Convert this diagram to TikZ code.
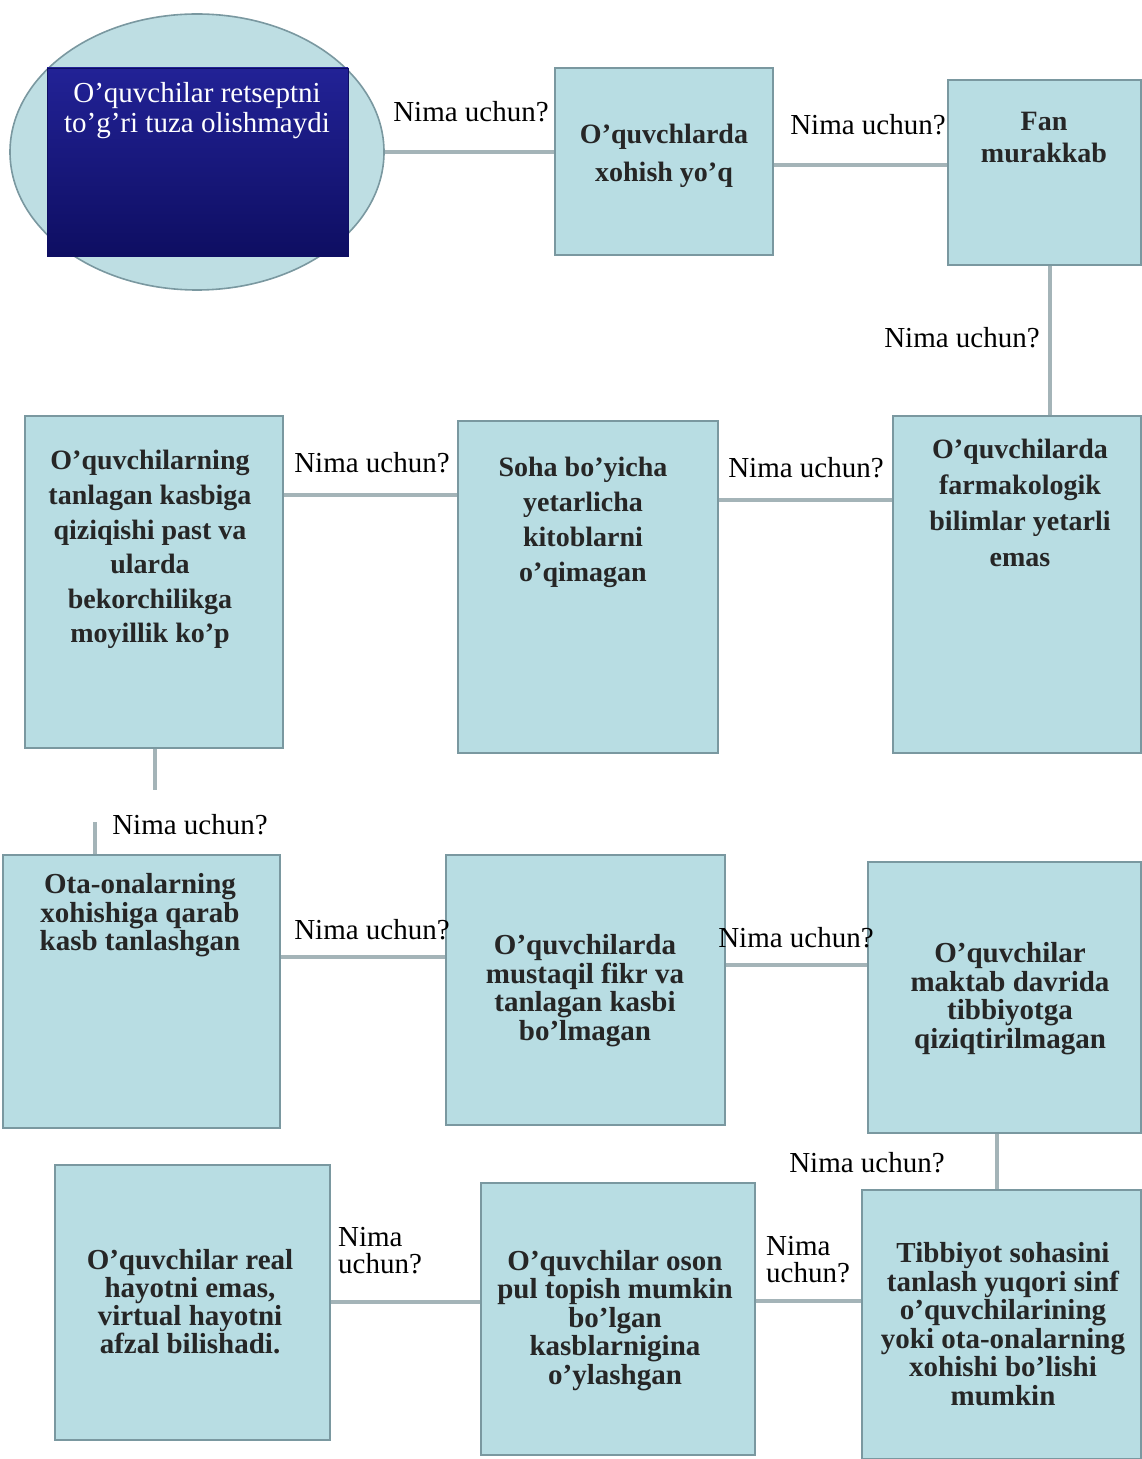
\documentclass[tikz,border=0pt]{standalone}
\usepackage{fontspec}
\setmainfont{Liberation Serif}
\usetikzlibrary{fit,shapes.geometric}
\definecolor{boxfill}{RGB}{184,221,227}
\definecolor{boxline}{RGB}{122,152,160}
\definecolor{linkgray}{RGB}{164,180,184}
\definecolor{navytop}{RGB}{34,34,150}
\definecolor{navybot}{RGB}{14,14,98}
\definecolor{ovalfill}{RGB}{190,222,227}
\tikzset{
  cause/.style={draw=boxline, fill=boxfill, line width=1pt, inner sep=0pt},
  causetext/.style={anchor=north, align=center, inner sep=0pt, text=black!85, font=\bfseries\fontsize{14}{#1}\selectfont},
  lowtext/.style={causetext, font=\bfseries\fontsize{14.5}{#1}\selectfont},
  why/.style={inner sep=0pt, font=\fontsize{14.5}{13.5}\selectfont},
  link/.style={draw=linkgray, line width=2.2pt},
}
\begin{document}
\begin{tikzpicture}[x=0.5pt, y=-0.5pt]
\useasboundingbox (0,0) rectangle (1141,1459);
% first row
\node[ellipse, draw=boxline, fill=ovalfill, line width=0.8pt, minimum width=187pt, minimum height=138pt, inner sep=0pt] (oval) at (197,152) {};
\node[fit={(47,68) (348,256)}, inner sep=0pt, top color=navytop, bottom color=navybot, draw=navybot] (start) {};
\node[anchor=north, align=center, inner sep=0pt, text=white, font=\fontsize{14.5}{15}\selectfont] (start-t) at (197,82) {O'quvchilar retseptni\\to'g'ri tuza olishmaydi};
\node[cause, fit={(555,68) (773,255)}] (xohish) {};
\node[causetext=19] (xohish-t) at (664,124) {O'quvchlarda\\xohish yo'q};
\node[cause, fit={(948,80) (1141,265)}] (fan) {};
\node[causetext=16] (fan-t) at (1044,112) {Fan\\murakkab};
\draw[link] (oval.east) -- (oval.east -| xohish.west);
\draw[link] (xohish.east |- 0,165) -- (fan.west |- 0,165);
\node[why] (why1) at (471,112) {Nima uchun?};
\node[why] (why2) at (868,125) {Nima uchun?};
% second row
\node[cause, fit={(25,416) (283,748)}] (qiziq) {};
\node[causetext=17.3] (qiziq-t) at (150,450) {O'quvchilarning\\tanlagan kasbiga\\qiziqishi past va\\ularda\\bekorchilikga\\moyillik ko'p};
\node[cause, fit={(458,421) (718,753)}] (kitob) {};
\node[causetext=17.5] (kitob-t) at (583,457) {Soha bo'yicha\\yetarlicha\\kitoblarni\\o'qimagan};
\node[cause, fit={(893,416) (1141,753)}] (farm) {};
\node[causetext=18] (farm-t) at (1020,439) {O'quvchilarda\\farmakologik\\bilimlar yetarli\\emas};
\draw[link] (fan.south -| 1050,0) -- (farm.north -| 1050,0);
\draw[link] (farm.west |- 0,500) -- (kitob.east |- 0,500);
\draw[link] (kitob.west |- 0,495) -- (qiziq.east |- 0,495);
\node[why] (why3) at (962,338) {Nima uchun?};
\node[why] (why4) at (806,468) {Nima uchun?};
\node[why] (why5) at (372,463) {Nima uchun?};
% third row
\node[cause, fit={(3,855) (280,1128)}] (ota) {};
\node[lowtext=14.3] (ota-t) at (140,873) {Ota-onalarning\\xohishiga qarab\\kasb tanlashgan};
\node[cause, fit={(446,855) (725,1125)}] (mustaqil) {};
\node[lowtext=14.3] (mustaqil-t) at (585,934) {O'quvchilarda\\mustaqil fikr va\\tanlagan kasbi\\bo'lmagan};
\node[cause, fit={(868,862) (1141,1133)}] (maktab) {};
\node[lowtext=14.3] (maktab-t) at (1010,942) {O'quvchilar\\maktab davrida\\tibbiyotga\\qiziqtirilmagan};
\coordinate (gapA) at (155,790);
\coordinate (gapD) at (95,822);
\draw[link, line width=1.6pt] (qiziq.south -| gapA) -- (gapA);
\draw[link, line width=1.6pt] (gapD) -- (gapD |- ota.north);
\draw[link] (ota.east |- 0,957) -- (mustaqil.west |- 0,957);
\draw[link] (mustaqil.east |- 0,965) -- (maktab.west |- 0,965);
\node[why] (why6) at (190,825) {Nima uchun?};
\node[why] (why7) at (372,930) {Nima uchun?};
\node[why] (why8) at (796,938) {Nima uchun?};
% fourth row
\node[cause, fit={(55,1165) (330,1440)}] (virtual) {};
\node[lowtext=14] (virtual-t) at (190,1249) {O'quvchilar real\\hayotni emas,\\virtual hayotni\\afzal bilishadi.};
\node[cause, fit={(481,1183) (755,1455)}] (pul) {};
\node[lowtext=14.2] (pul-t) at (615,1250) {O'quvchilar oson\\pul topish mumkin\\bo'lgan\\kasblarnigina\\o'ylashgan};
\node[cause, fit={(862,1190) (1141,1459)}] (tibbiyot) {};
\node[lowtext=14.3] (tibbiyot-t) at (1003,1242) {Tibbiyot sohasini\\tanlash yuqori sinf\\o'quvchilarining\\yoki ota-onalarning\\xohishi bo'lishi\\mumkin};
\draw[link] (maktab.south -| 997,0) -- (tibbiyot.north -| 997,0);
\draw[link] (tibbiyot.west |- 0,1301) -- (pul.east |- 0,1301);
\draw[link] (pul.west |- 0,1302) -- (virtual.east |- 0,1302);
\node[why] (why9) at (867,1163) {Nima uchun?};
\node[why, align=left] (why10) at (380,1251) {Nima\\uchun?};
\node[why, align=left] (why11) at (808,1260) {Nima\\uchun?};
\end{tikzpicture}
\end{document}
